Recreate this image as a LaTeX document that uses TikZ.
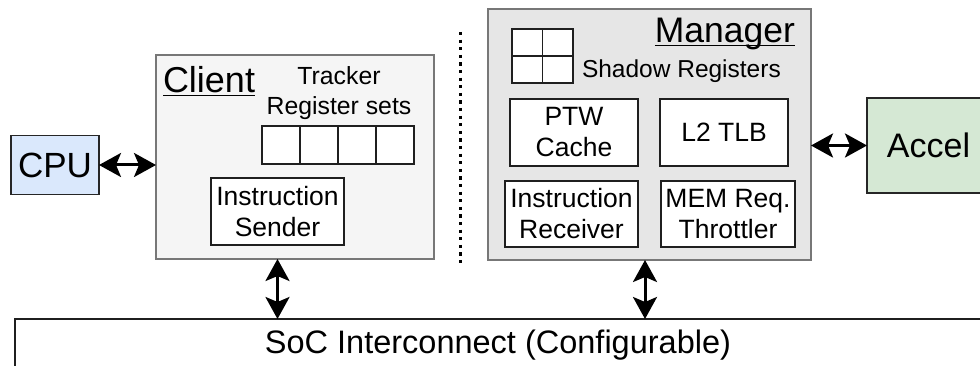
\documentclass[tikz,border=0pt]{standalone}
\usepackage{fontspec}
\setmainfont{Liberation Sans}
\usetikzlibrary{arrows.meta}
\definecolor{clientfill}{HTML}{F5F5F5}
\definecolor{managerfill}{HTML}{E6E6E6}
\definecolor{framegray}{HTML}{777777}
\definecolor{cpufill}{HTML}{DAE8FC}
\definecolor{accelfill}{HTML}{D5E8D4}
% underlined heading with a rule a little below the baseline
\newcommand\ulabel[1]{\setbox0\hbox{#1}\rlap{\rule[-3.5pt]{\wd0}{1.6pt}}\box0}
\newcommand\fsz[2]{\fontsize{#1}{#2}\selectfont}
\begin{document}
\begin{tikzpicture}[x=1pt,y=-1pt,
  every node/.style={inner sep=0pt, outer sep=0pt},
  unit/.style={draw=black!88, line width=1.6pt, fill=white, align=center, font=\fsz{26.5}{31}},
  host/.style={draw=framegray, line width=1.6pt},
  cell/.style={draw=black!88, line width=1.6pt, fill=white, minimum width=38pt, minimum height=38pt},
  bigbox/.style={draw=black!85, line width=1.6pt},
  >={Stealth[length=22pt 0 0, width=24pt 0 0, inset=5pt 0 0]},
  biarrow/.style={line width=3pt, <->},
  divider/.style={line width=3pt, dash pattern=on 3.3pt off 4.3pt}
]
\useasboundingbox (0,0) rectangle (980,366);

% external blocks
\node[bigbox, fill=cpufill, minimum width=88pt, minimum height=59pt, font=\fsz{35}{40}] (cpu) at (55,165) {CPU};
\node[bigbox, fill=accelfill, minimum width=123pt, minimum height=95pt, font=\fsz{34}{40}] (accel) at (928.5,145.5) {Accel};

% client side
\node[host, fill=clientfill, minimum width=278pt, minimum height=204pt] (client) at (295,157) {};
\node[anchor=base west, font=\fsz{36}{40}] (clientlbl) at (163,93) {\ulabel{Client}};
\node[align=center, font=\fsz{24.8}{30}] (trackerlbl) at (339,93) {Tracker\\Register sets};
\foreach \i in {1,...,4}
  \node[cell] (reg\i) at ({262+38*\i-19},145) {};
\node[unit, minimum width=133pt, minimum height=67pt] (sender) at (277.5,211.5) {Instruction\\Sender};

% divider between the two sides
\coordinate (divtop) at (460,32);
\coordinate (divbot) at (460,263);
\draw[divider] (divtop) -- (divbot);

% manager side
\node[host, fill=managerfill, minimum width=323pt, minimum height=251pt] (manager) at (649.5,134.5) {};
\node[anchor=base east, font=\fsz{35.5}{40}] (managerlbl) at (795,43) {\ulabel{Manager}};
\node[draw=black!88, line width=1.6pt, fill=white, minimum width=61pt, minimum height=54pt] (shadow) at (542.5,56.3) {};
\draw[line width=1.6pt, black!88] (shadow.north) -- (shadow.south) (shadow.west) -- (shadow.east);
\node[anchor=base west, font=\fsz{24.5}{28}] (shadowlbl) at (582,78) {Shadow Registers};
\node[unit, minimum width=128pt, minimum height=67pt] (ptw) at (574,132.5) {PTW\\Cache};
\node[unit, minimum width=128pt, minimum height=67pt] (tlb) at (724,132.5) {L2 TLB};
\node[unit, minimum width=133pt, minimum height=66pt] (receiver) at (571.5,214) {Instruction\\Receiver};
\node[unit, minimum width=134pt, minimum height=66pt] (throttler) at (728,214) {MEM Req.\\Throttler};

% interconnect
\node[draw=black!88, line width=1.6pt, minimum width=1000pt, minimum height=100pt, anchor=north west] (soc) at (15,319) {};
\node[anchor=base, font=\fsz{32.5}{36}] (soclbl) at (498,353) {SoC Interconnect (Configurable)};

% connections
\draw[biarrow] (cpu.east) -- (cpu.east -| client.west);
\draw[biarrow] (manager.east |- accel.west) -- (accel.west);
\draw[biarrow] (sender.south |- client.south) -- (sender.south |- soc.north);
\draw[biarrow] ([xshift=-4.5pt]manager.south) -- ([xshift=-4.5pt]manager.south |- soc.north);
\end{tikzpicture}
\end{document}
